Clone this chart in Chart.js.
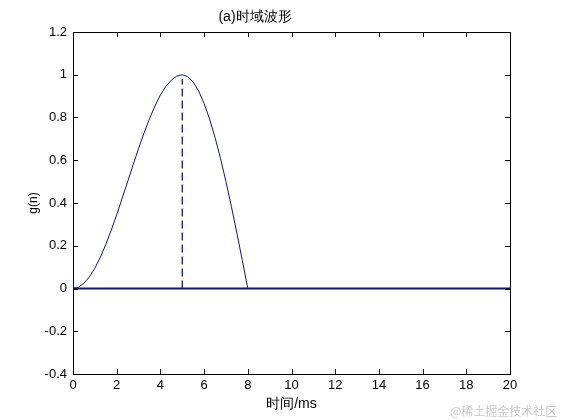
<!DOCTYPE html>
<html>
<head>
<meta charset="utf-8">
<script src="https://cdn.jsdelivr.net/npm/chart.js@4/dist/chart.umd.min.js"></script>
<style>
  body { margin: 0; background: #fff; }
  #wrap { position: relative; width: 561px; height: 420px; }
  #mark {
    position: absolute; left: 450px; top: 402px;
    font: 12px "Noto Sans CJK SC", sans-serif; color: #c9c9c9;
    white-space: nowrap;
  }
</style>
</head>
<body>
<div id="wrap">
  <canvas id="chart" width="561" height="420"></canvas>
  <div id="mark">@稀土掘金技术社区</div>
</div>
<script>
// 时间 (ms) 和 g(n) 的读数
const timeMs = [0, 0.25, 0.5, 0.75, 1, 1.25, 1.5, 1.75, 2, 2.25, 2.5, 2.75, 3, 3.25, 3.5, 3.75,
  4, 4.25, 4.5, 4.75, 5, 5.25, 5.5, 5.75, 6, 6.25, 6.5, 6.75, 7, 7.25, 7.5, 7.75, 8, 20];
const gValues = [0, 0.006, 0.025, 0.054, 0.095, 0.146, 0.206, 0.273, 0.345, 0.422, 0.5, 0.578,
  0.655, 0.727, 0.794, 0.854, 0.905, 0.946, 0.975, 0.994, 1, 0.991, 0.966, 0.924, 0.866, 0.793,
  0.707, 0.609, 0.5, 0.383, 0.259, 0.131, 0, 0];

const zeroX = [0, 20];
const zeroY = [0, 0];

const peakX = [5, 5];
const peakY = [0, 0.98];

const xTicks = { min: 0, max: 20, step: 2 };
const yTicks = { min: -0.4, max: 1.2, step: 0.2 };

const fontFamily = '"Liberation Sans", Arial, sans-serif';
const lineColor = '#141470';

const toPoints = (xs, ys) => xs.map((x, i) => ({ x, y: ys[i] }));

// MATLAB-artiger Rahmen mit Ticks nach innen
const boxTicks = {
  id: 'boxTicks',
  afterDraw(chart) {
    const { ctx, chartArea: a, scales } = chart;
    const len = 5;
    ctx.save();
    ctx.strokeStyle = '#000';
    ctx.lineWidth = 1;
    ctx.strokeRect(Math.round(a.left) + 0.5, Math.round(a.top) + 0.5,
      Math.round(a.right - a.left), Math.round(a.bottom - a.top));
    ctx.beginPath();
    scales.x.ticks.forEach((t) => {
      const px = Math.round(scales.x.getPixelForValue(t.value)) + 0.5;
      ctx.moveTo(px, a.bottom); ctx.lineTo(px, a.bottom - len);
      ctx.moveTo(px, a.top); ctx.lineTo(px, a.top + len);
    });
    scales.y.ticks.forEach((t) => {
      const py = Math.round(scales.y.getPixelForValue(t.value)) + 0.5;
      ctx.moveTo(a.left, py); ctx.lineTo(a.left + len, py);
      ctx.moveTo(a.right, py); ctx.lineTo(a.right - len, py);
    });
    ctx.stroke();
    ctx.restore();
  },
};

new Chart(document.getElementById('chart'), {
  type: 'line',
  data: {
    datasets: [
      {
        data: toPoints(zeroX, zeroY),
        borderColor: lineColor,
        borderWidth: 2,
        pointRadius: 0,
        tension: 0,
      },
      {
        data: toPoints(timeMs, gValues),
        borderColor: lineColor,
        borderWidth: 1,
        pointRadius: 0,
        tension: 0,
      },
      {
        data: toPoints(peakX, peakY),
        borderColor: lineColor,
        borderWidth: 1.3,
        borderDash: [8, 4],
        pointRadius: 0,
      },
    ],
  },
  options: {
    responsive: false,
    animation: false,
    layout: { padding: { left: 0, right: 51, top: 0, bottom: 0 } },
    plugins: {
      legend: { display: false },
      tooltip: { enabled: false },
      title: {
        display: true,
        text: '(a)时域波形',
        color: '#000',
        font: { family: fontFamily, size: 14, weight: 'normal' },
        padding: { top: 9, bottom: 6.2 },
      },
    },
    scales: {
      x: {
        type: 'linear',
        min: xTicks.min,
        max: xTicks.max,
        ticks: {
          stepSize: xTicks.step,
          color: '#000',
          padding: 4,
          maxRotation: 0,
          font: { family: fontFamily, size: 13 },
        },
        grid: { drawOnChartArea: false, drawTicks: false },
        border: { display: true, color: '#000' },
        title: {
          display: true,
          text: '时间/ms',
          color: '#000',
          font: { family: fontFamily, size: 14 },
          padding: { top: 0, bottom: 7 },
        },
        afterFit(scale) { scale.height = 46; },
      },
      y: {
        type: 'linear',
        min: yTicks.min,
        max: yTicks.max,
        ticks: {
          stepSize: yTicks.step,
          color: '#000',
          padding: 6,
          font: { family: fontFamily, size: 13 },
          callback: (v) => String(Number(v.toFixed(1))),
        },
        grid: { drawOnChartArea: false, drawTicks: false },
        border: { display: true, color: '#000' },
        title: {
          display: true,
          text: 'g(n)',
          color: '#000',
          font: { family: fontFamily, size: 12 },
          padding: { top: 26, bottom: 0 },
        },
        afterFit(scale) { scale.width = 73; },
      },
    },
  },
  plugins: [boxTicks],
});
</script>
</body>
</html>
